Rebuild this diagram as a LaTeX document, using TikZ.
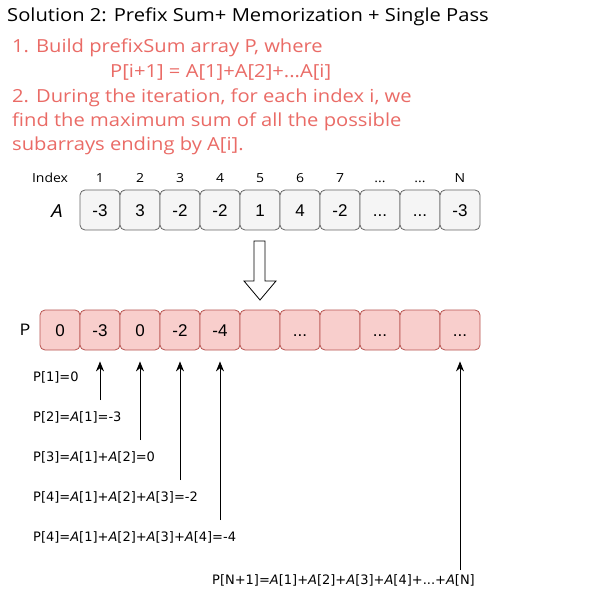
\documentclass[tikz,border=0pt]{standalone}
\usepackage{fontspec}
\setmainfont{Liberation Sans}
\newfontfamily\comicf[FakeStretch=1.12]{Open Sans}
\newfontfamily\tahf{DejaVu Sans}
\usetikzlibrary{arrows.meta}
\definecolor{redfill}{HTML}{F8CECC}
\definecolor{redline}{HTML}{B85450}
\definecolor{grayfill}{HTML}{F5F5F5}
\definecolor{grayline}{HTML}{666666}
\definecolor{redtext}{HTML}{EA6B66}
\newcommand\ddd{...}
\tikzset{
  cellbase/.style={rounded corners=5pt, minimum width=40pt, minimum height=40pt, inner sep=0pt, line width=0.8pt, font=\fontsize{17}{17}\selectfont, text height=12.2pt, text depth=0pt},
  acell/.style={cellbase, draw=grayline, fill=grayfill},
  pcell/.style={cellbase, draw=redline, fill=redfill},
  idx/.style={font=\comicf\fontsize{12.5}{12.5}\selectfont, inner sep=0pt, text height=9pt, text depth=0pt},
  redtxt/.style={anchor=west, inner sep=0pt, text=redtext, font=\comicf\fontsize{18}{18}\selectfont},
  ann/.style={anchor=west, inner sep=0pt, font=\tahf\fontsize{13}{13}\selectfont},
  uparrow/.style={-{Stealth[length=10pt,width=8pt]}, line width=1pt, shorten >=11pt},
}
\begin{document}
\begin{tikzpicture}[x=1pt,y=-1pt]
\useasboundingbox[fill=white] (0,0) rectangle (601,601);
\node[anchor=west, inner sep=0pt, font=\comicf\fontsize{18}{18}\selectfont] (title) at (7,17) {Solution 2: Prefix Sum+ Memorization + Single Pass};
\node[redtxt] (l1) at (12,48) {1. Build prefixSum array P, where};
\node[redtxt] (l2) at (110,72) {P[i+1] = A[1]+A[2]+...A[i]};
\node[redtxt] (l3) at (12,98) {2. During the iteration, for each index i, we};
\node[redtxt] (l4) at (12,122) {find the maximum sum of all the possible};
\node[redtxt] (l5) at (12,146) {subarrays ending by A[i].};
% index row
\node[idx] (idxlabel) at (50,178) {Index};
\foreach \t [count=\i] in {1,2,3,4,5,6,7,\ddd,\ddd,N}{
  \node[idx] (ix\i) at ({60+40*\i},178) {\t};
}
\node[font=\comicf\itshape\fontsize{18}{18}\selectfont, inner sep=0pt] (Alabel) at (57,211) {A};
\foreach \t [count=\i] in {-3,3,-2,-2,1,4,-2,\ddd,\ddd,-3}{
  \node[acell] (a\i) at ({60+40*\i},210) {\t};
}
% hollow arrow
\draw[line width=0.8pt, fill=white] (254,241) -- (265,241) -- (265,281) -- (276,281) -- (260,300) -- (244,281) -- (254,281) -- cycle;
% P row
\node[font=\comicf\fontsize{16}{16}\selectfont, inner sep=0pt] (Plabel) at (25,330) {P};
\foreach \t [count=\i] in {0,-3,0,-2,-4,{},\ddd,{},\ddd,{},\ddd}{
  \node[pcell] (p\i) at ({20+40*\i},330) {\t};
}
% annotations
\node[ann] (n1) at (33,377) {P[1]=0};
\node[ann] (n2) at (33,417) {P[2]=\textit{A}[1]=-3};
\node[ann] (n3) at (33,457) {P[3]=\textit{A}[1]+\textit{A}[2]=0};
\node[ann] (n4) at (33,497) {P[4]=\textit{A}[1]+\textit{A}[2]+\textit{A}[3]=-2};
\node[ann] (n5) at (33,537) {P[4]=\textit{A}[1]+\textit{A}[2]+\textit{A}[3]+\textit{A}[4]=-4};
\node[ann] (n6) at (212,580) {P[N+1]=\textit{A}[1]+\textit{A}[2]+\textit{A}[3]+\textit{A}[4]+...+\textit{A}[N]};
\coordinate (s2) at (100,400);
\coordinate (s3) at (140,440);
\coordinate (s4) at (180,480);
\coordinate (s5) at (220,520);
\coordinate (s11) at (460,570);
\draw[uparrow] (s2) -- (p2.south);
\draw[uparrow] (s3) -- (p3.south);
\draw[uparrow] (s4) -- (p4.south);
\draw[uparrow] (s5) -- (p5.south);
\draw[uparrow] (s11) -- (p11.south);
\end{tikzpicture}
\end{document}
